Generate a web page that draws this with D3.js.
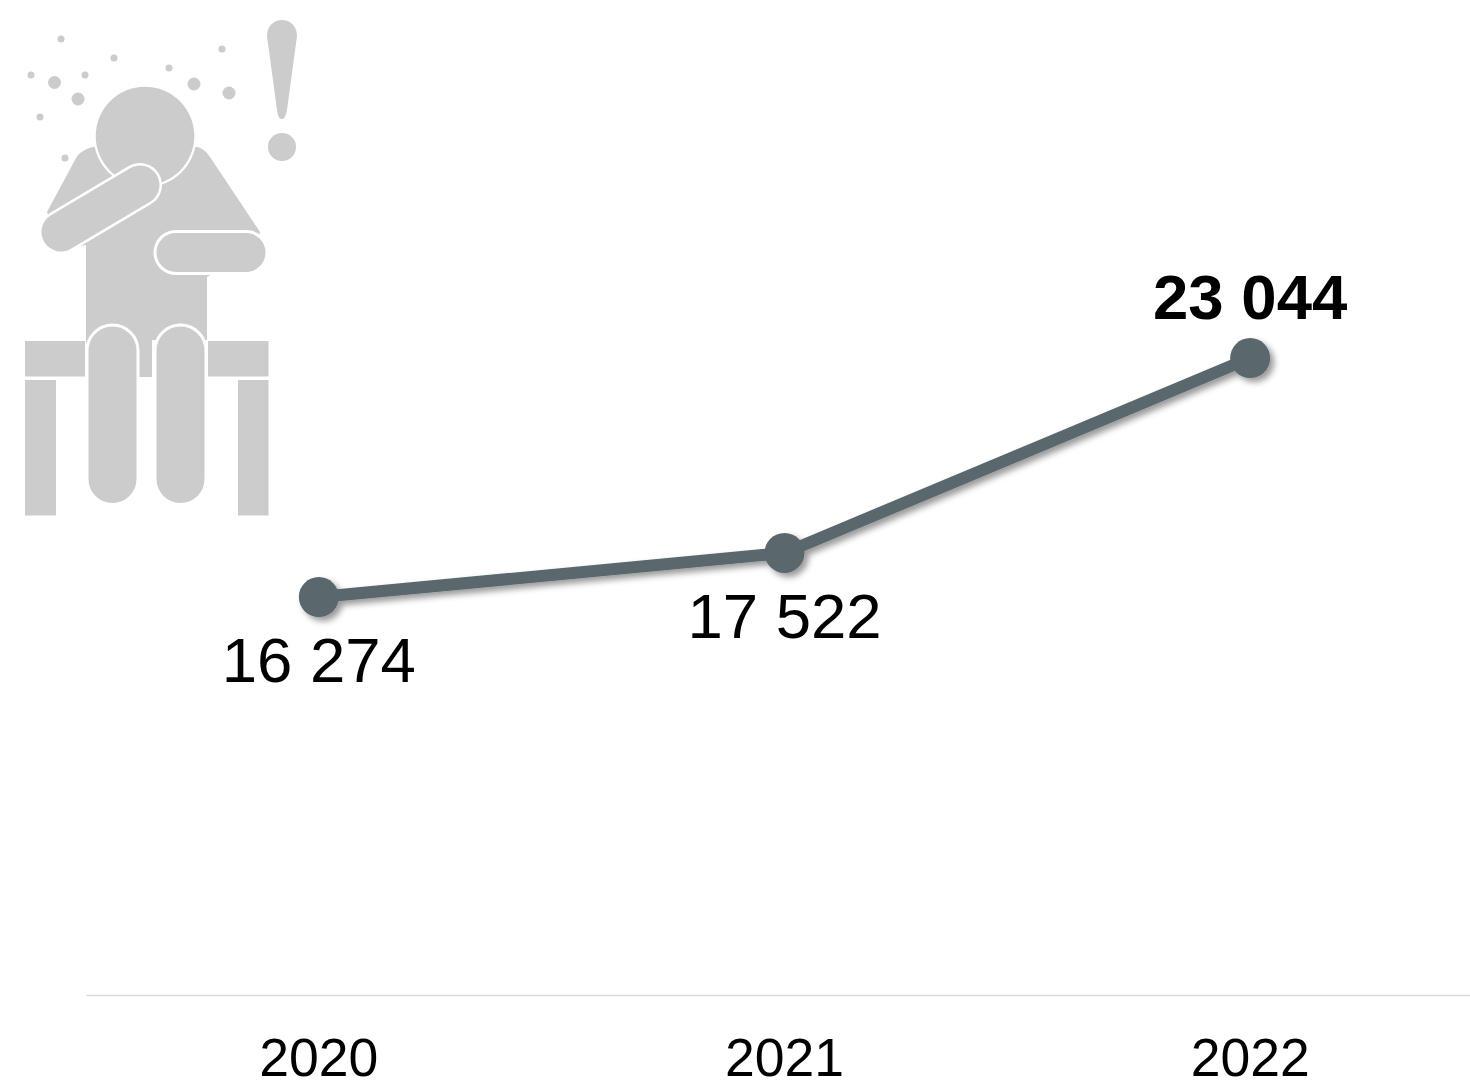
<!DOCTYPE html>
<html><head><meta charset="utf-8">
<script src="https://cdn.jsdelivr.net/npm/d3@7/dist/d3.min.js"></script>
<style>html,body{margin:0;padding:0;background:#fff;overflow:hidden}svg{display:block}text{font-family:"Liberation Sans",Arial,sans-serif;fill:#000}</style>
</head><body><svg id="c" width="1470" height="1082"></svg>
<script>
const years = ["2020","2021","2022"];
const values = [16274,17522,23044];
const labels = ["16 274","17 522","23 044"];
const labelDy = [85,85,-39];
const labelWeight = ["normal","normal","bold"];
const LINE = "#5a676e", ICON = "#cccccc";

const svg = d3.select("#c");
const x = d3.scaleBand().domain(years).range([86,1483]);
const y = d3.scaleLinear().domain([5000,25000]).range([995,289]);
const cx = d => x(d)+x.bandwidth()/2;

const defs = svg.append("defs");
const f = defs.append("filter").attr("id","sh").attr("x","-20%").attr("y","-50%").attr("width","140%").attr("height","200%");
f.append("feDropShadow").attr("dx",4).attr("dy",4).attr("stdDeviation",3).attr("flood-color","#000").attr("flood-opacity",.4);
defs.append("filter").attr("id","soft").append("feGaussianBlur").attr("stdDeviation",.45);

// icon
const ic = svg.append("g").attr("fill",ICON).attr("filter","url(#soft)");
[[61,39,3.5],[114,58,3.5],[31,75,3.5],[85,75,3.5],[54.5,82.5,6.5],[78,99,6.5],[40,117,3.5],[65,158,3.5],[169,68,3.5],[194,84,6.5],[229,93,6.5],[222,49,3.5]]
  .forEach(d=>ic.append("circle").attr("cx",d[0]).attr("cy",d[1]).attr("r",d[2]));
ic.append("path").attr("d","M267 36C267 26 274 20 282 20C290 20 297 26 297 36L287 110C286 116 284 119 282 119C279 119 278 116 277 110Z");
ic.append("circle").attr("cx",282).attr("cy",147).attr("r",14);
// bench
ic.append("rect").attr("x",25).attr("y",341).attr("width",60).attr("height",35.5);
ic.append("rect").attr("x",208).attr("y",341).attr("width",60.5).attr("height",35.5);
ic.append("rect").attr("x",25).attr("y",380).attr("width",31).attr("height",135.5);
ic.append("rect").attr("x",238).attr("y",380).attr("width",30.5).attr("height",135.5);
// torso
ic.append("path").attr("d","M93 147C85 149 79 153 76 158L47 212L60 250L86 245L86 340L88 377L152 377L152 340L207 340L207 277L255 250L260 232L210 157C206 151 202 148 197 147Z");
// head
ic.append("circle").attr("cx",145).attr("cy",136).attr("r",51.5).attr("fill","#fff");
ic.append("circle").attr("cx",145).attr("cy",136).attr("r",49.3);
// forearm
ic.append("line").attr("x1",61).attr("y1",232).attr("x2",140).attr("y2",185).attr("stroke","#fff").attr("stroke-width",44).attr("stroke-linecap","round");
ic.append("line").attr("x1",61).attr("y1",232).attr("x2",140).attr("y2",185).attr("stroke",ICON).attr("stroke-width",39).attr("stroke-linecap","round");
// right arm
ic.append("rect").attr("x",155).attr("y",231.5).attr("width",112).attr("height",42).attr("rx",21).attr("stroke","#fff").attr("stroke-width",3);
// thighs
[[87,51],[155,51]].forEach(d=>ic.append("rect").attr("x",d[0]).attr("y",325).attr("width",d[1]).attr("height",179.5).attr("rx",25.5).attr("stroke","#fff").attr("stroke-width",3));

// axis
const ax = svg.append("g").attr("transform","translate(0,995)")
  .call(d3.axisBottom(x).tickSize(0).tickPadding(38));
ax.select(".domain").attr("stroke","#d9d9d9").attr("stroke-width",1.5);
ax.selectAll("text").attr("font-size",53.5).attr("font-family",'"Liberation Sans",Arial,sans-serif').attr("fill","#000");
ax.selectAll(".tick text").attr("dy",0).attr("y",81);

// line + points
const line = d3.line().x(d=>cx(d.k)).y(d=>y(d.v));
const pts = years.map((k,i)=>({k,v:values[i]}));
const g = svg.append("g").attr("filter","url(#sh)");
g.append("path").datum(pts).attr("d",line).attr("fill","none").attr("stroke",LINE).attr("stroke-width",12);
g.selectAll("circle").data(pts).join("circle").attr("cx",d=>cx(d.k)).attr("cy",d=>y(d.v)).attr("r",20).attr("fill",LINE);

svg.selectAll("text.v").data(pts).join("text").attr("class","v")
  .attr("x",d=>cx(d.k)).attr("y",(d,i)=>y(d.v)+labelDy[i])
  .attr("text-anchor","middle").attr("font-size",63.5)
  .attr("font-weight",(d,i)=>labelWeight[i]).text((d,i)=>labels[i]);
</script></body></html>
